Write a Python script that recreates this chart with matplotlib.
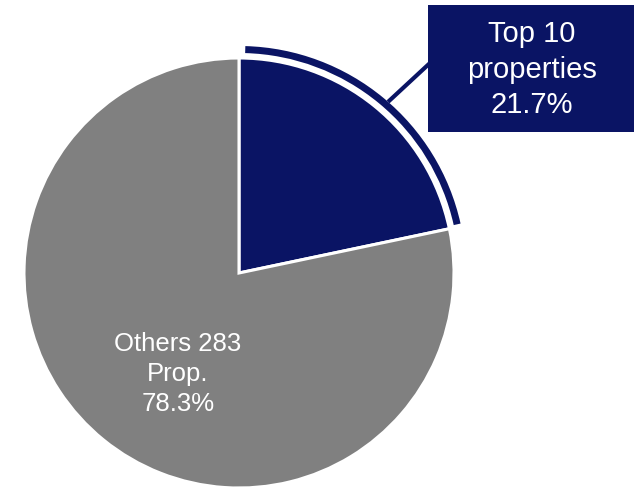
import matplotlib
matplotlib.use("Agg")
import matplotlib.pyplot as plt
from matplotlib.patches import Wedge, Rectangle
import numpy as np

plt.rcParams['font.family'] = ['Liberation Sans', 'DejaVu Sans']

categories = ["Top 10\nproperties", "Others 283\nProp."]
shares = [21.7, 78.3]
colors = ["#0A1464", "#808080"]

W, H = 635, 488
fig = plt.figure(figsize=(W / 100, H / 100), dpi=100)
ax = fig.add_axes([0, 0, 1, 1])

cx, cy, R = 239, 488 - 273, 215
wedges, _ = ax.pie(shares, colors=colors, startangle=90, counterclock=False,
                   center=(cx, cy), radius=R,
                   wedgeprops=dict(edgecolor="white", linewidth=2.2))
ax.set_xlim(0, W)
ax.set_ylim(0, H)
ax.set_aspect("equal")
ax.axis("off")

# highlight arc around Top 10 slice
end_ang = 90
start_ang = 90 - 360 * shares[0] / 100
ax.add_patch(Wedge((cx, cy), R + 12, start_ang + 0.7, end_ang - 1.6, width=7,
                   facecolor=colors[0], edgecolor="none"))

# leader line
mid = np.deg2rad((start_ang + end_ang) / 2 - 2)
r0 = R + 12
x0, y0 = cx + r0 * np.cos(mid), cy + r0 * np.sin(mid)
bx, by, bw, bh = 428, 488 - 132, 206, 127
ax.plot([x0, bx + 2], [y0, 488 - 63], color=colors[0], lw=3, solid_capstyle="butt")

# label box
ax.add_patch(Rectangle((bx, by), bw, bh, facecolor=colors[0], edgecolor="none"))
ax.text(bx + bw / 2 + 1, by + bh / 2 - 1, f"{categories[0]}\n{shares[0]:.1f}%",
        ha="center", va="center", color="white", fontsize=21, linespacing=1.32)

# others label
ax.text(178, 488 - 374, f"{categories[1]}\n{shares[1]:.1f}%",
        ha="center", va="center", color="white", fontsize=18.5, linespacing=1.33)

fig.savefig("out.png", dpi=100)
